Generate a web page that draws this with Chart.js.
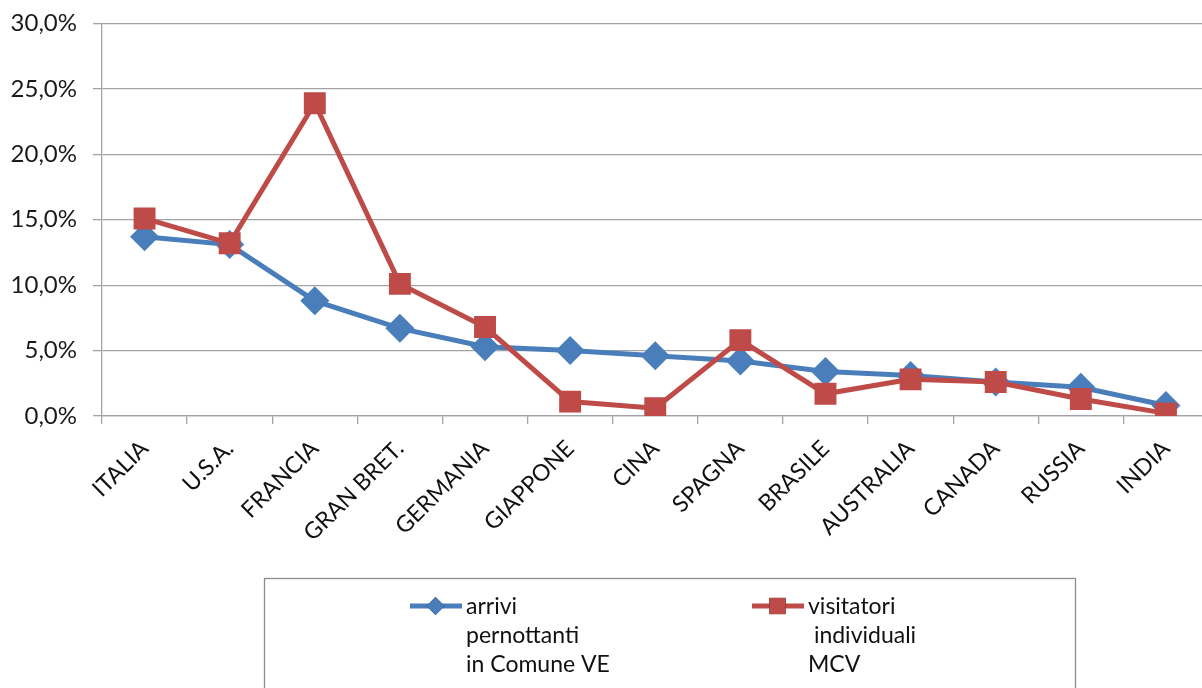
<!DOCTYPE html>
<html>
<head>
<meta charset="utf-8">
<script src="https://cdn.jsdelivr.net/npm/chart.js@4/dist/chart.umd.min.js"></script>
<style>
  html, body { margin: 0; padding: 0; background: #ffffff; overflow: hidden; }
  #wrap { width: 1224px; height: 688px; }
</style>
</head>
<body>
<div id="wrap"><canvas id="c" width="1224" height="688"></canvas></div>
<script>
// Countries of origin (share of total, %)
const countries = ['ITALIA', 'U.S.A.', 'FRANCIA', 'GRAN BRET.', 'GERMANIA', 'GIAPPONE', 'CINA',
                   'SPAGNA', 'BRASILE', 'AUSTRALIA', 'CANADA', 'RUSSIA', 'INDIA'];

// arrivi pernottanti in Comune VE
const arriviPernottanti = [13.7, 13.1, 8.8, 6.7, 5.3, 5.0, 4.6, 4.2, 3.4, 3.1, 2.6, 2.2, 0.8];

// visitatori individuali MCV
const visitatoriMCV = [15.1, 13.2, 23.9, 10.1, 6.8, 1.1, 0.6, 5.8, 1.7, 2.8, 2.6, 1.3, 0.2];

// Legend text, one entry per line
const legendArrivi = ['arrivi', 'pernottanti', 'in Comune VE'];
const legendVisitatori = ['visitatori', ' individuali', 'MCV'];

// Value axis
const yMin = 0, yMax = 30, yStep = 5;

const BLUE = '#4a7ebb';
const RED = '#be4b48';
const GRID = '#a3a3a3';
const FONT = 'Lato, "Liberation Sans", sans-serif';

// Boxed legend under the chart, with multi-line entries
const boxLegend = {
  id: 'boxLegend',
  afterDraw(chart) {
    const ctx = chart.ctx;
    const left = 264.5, top = 578.5, width = 811, height = 130;
    ctx.save();
    ctx.strokeStyle = '#8c8c8c';
    ctx.lineWidth = 1.3;
    ctx.strokeRect(left, top, width, height);

    const entries = [
      { ds: chart.data.datasets[0], lines: legendArrivi, x: 410 },
      { ds: chart.data.datasets[1], lines: legendVisitatori, x: 752 }
    ];
    const y0 = 606, lh = 29;
    ctx.font = '23px ' + FONT;
    ctx.textBaseline = 'middle';
    ctx.textAlign = 'left';
    entries.forEach(e => {
      const ds = e.ds;
      ctx.strokeStyle = ds.borderColor;
      ctx.lineWidth = 5;
      ctx.beginPath();
      ctx.moveTo(e.x, y0);
      ctx.lineTo(e.x + 52, y0);
      ctx.stroke();
      Chart.helpers.drawPoint(ctx, {
        pointStyle: ds.pointStyle,
        radius: ds.pointStyle === 'rect' ? 11.5 : 9,
        borderWidth: 0
      }, e.x + 25.5, y0);
      ctx.fillStyle = ds.pointBackgroundColor;
      ctx.fill();
      ctx.fillStyle = '#111111';
      e.lines.forEach((t, i) => ctx.fillText(t, e.x + 56, y0 + 1 + i * lh));
    });
    ctx.restore();
  }
};

new Chart(document.getElementById('c'), {
  type: 'line',
  data: {
    labels: countries,
    datasets: [
      {
        label: legendArrivi.join(' '),
        data: arriviPernottanti,
        borderColor: BLUE,
        backgroundColor: BLUE,
        pointBackgroundColor: BLUE,
        pointBorderColor: BLUE,
        borderWidth: 5,
        pointStyle: 'rectRot',
        pointRadius: 14.5,
        pointBorderWidth: 0,
        tension: 0,
        order: 2
      },
      {
        label: legendVisitatori.join(' '),
        data: visitatoriMCV,
        borderColor: RED,
        backgroundColor: RED,
        pointBackgroundColor: RED,
        pointBorderColor: RED,
        borderWidth: 5,
        pointStyle: 'rect',
        pointRadius: 15.5,
        pointBorderWidth: 0,
        tension: 0,
        order: 1
      }
    ]
  },
  options: {
    responsive: false,
    animation: false,
    events: [],
    layout: { padding: { top: 23.5, right: 0, bottom: 0, left: 0 } },
    plugins: { legend: { display: false }, tooltip: { enabled: false } },
    scales: {
      x: {
        type: 'category',
        offset: true,
        grid: {
          offset: true,
          drawOnChartArea: false,
          drawTicks: true,
          tickLength: 8,
          color: GRID,
          lineWidth: 1.3
        },
        border: { display: true, color: GRID, width: 1.3 },
        ticks: {
          autoSkip: false,
          minRotation: 45,
          maxRotation: 45,
          padding: 11,
          color: '#111111',
          font: { family: FONT, size: 23 }
        },
        afterFit(scale) {
          scale.height = 272;
          scale.paddingLeft = 0;
          scale.paddingRight = 0;
        }
      },
      y: {
        min: yMin,
        max: yMax,
        grid: {
          color: GRID,
          lineWidth: 1.3,
          tickLength: 9
        },
        border: { display: true, color: GRID, width: 1.3 },
        ticks: {
          stepSize: yStep,
          padding: 16,
          color: '#1a1a1a',
          font: { family: FONT, size: 24 },
          callback: v => v.toFixed(1).replace('.', ',') + '%'
        },
        afterFit(scale) {
          scale.width = 102;
          scale.paddingTop = 0;
          scale.paddingBottom = 0;
        }
      }
    }
  },
  plugins: [boxLegend]
});
</script>
</body>
</html>
